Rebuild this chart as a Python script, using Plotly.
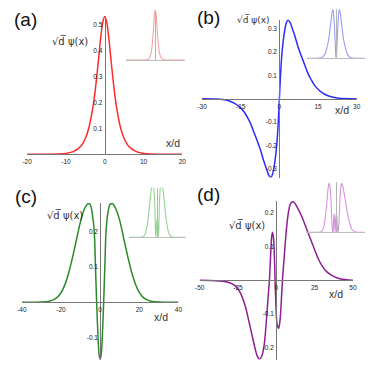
import plotly.graph_objects as go

# ---------------- data ----------------
# (a) ground state
xa = [-20, -15, -12, -10, -8, -6, -5, -4, -3, -2.5, -2, -1.5, -1, -0.5, 0,
      0.5, 1, 1.5, 2, 2.5, 3, 4, 5, 6, 8, 10, 12, 15, 20]
ya = [0, 0.0003, 0.001, 0.0035, 0.011, 0.034, 0.061, 0.107, 0.185, 0.240, 0.307, 0.380, 0.454, 0.509, 0.530,
      0.509, 0.454, 0.380, 0.307, 0.240, 0.185, 0.107, 0.061, 0.034, 0.011, 0.0035, 0.001, 0.0003, 0]

# (b) first excited state
xb = [-30, -23, -20, -17.4, -15.5, -13.6, -12.3, -11.1, -10, -8.6, -7.3, -6.1, -5, -4.2, -3.3, -2.6, -1.9, -1, -0.4,
      0, 0.4, 1, 1.9, 2.6, 3.3, 4.2, 5, 6.1, 7.3, 8.6, 10, 11.1, 12.3, 13.6, 15.5, 17.4, 20, 23, 30]
yb = [0, -0.002, -0.008, -0.02, -0.035, -0.058, -0.082, -0.108, -0.14, -0.18, -0.22, -0.265, -0.30, -0.325, -0.336,
      -0.32, -0.28, -0.194, -0.094,
      0, 0.094, 0.194, 0.28, 0.32, 0.336, 0.325, 0.30, 0.265, 0.22, 0.18, 0.14, 0.108, 0.082, 0.058, 0.035, 0.02,
      0.008, 0.002, 0]

# (c) second excited state
xc = [-40, -30, -26, -24, -22, -20, -18, -16, -14, -12, -10, -8, -6, -5, -4, -3, -2.5, -1.8, -1, -0.5, 0,
      0.5, 1, 1.8, 2.5, 3, 4, 5, 6.2, 8, 10, 12, 14, 16, 18, 20, 22, 24, 26, 30, 40]
yc = [0, 0.0005, 0.003, 0.007, 0.014, 0.027, 0.05, 0.085, 0.13, 0.18, 0.23, 0.265, 0.28, 0.276, 0.25, 0.2, 0.12,
      0.0, -0.11, -0.15, -0.161, -0.15, -0.11, 0.0, 0.12, 0.2, 0.255, 0.277, 0.28, 0.265, 0.232, 0.182, 0.132,
      0.087, 0.052, 0.028, 0.014, 0.007, 0.003, 0.0005, 0]

# (d) third excited state
xd = [-50, -40, -35, -30, -27, -25, -23, -21, -19.5, -18, -16, -14, -12.5, -11, -9.5, -8, -7, -6, -5, -4.5, -4,
      -3.5, -3, -2.5, -1.8, -1.2, -0.8, -0.2, 0.5, 1.6, 2.4, 3.1, 4, 5, 6, 7, 8, 9, 10.5, 12, 14, 16.7, 20, 23,
      27, 30, 33, 38, 42, 50]
yd = [0, -0.001, -0.003, -0.008, -0.016, -0.026, -0.042, -0.066, -0.09, -0.12, -0.16, -0.2, -0.225, -0.235,
      -0.226, -0.195, -0.15, -0.09, -0.03, 0.0, 0.045, 0.095, 0.13, 0.143, 0.125, 0.065, 0.0, -0.08, -0.13,
      -0.143, -0.12, -0.075, 0.0, 0.06, 0.12, 0.17, 0.205, 0.225, 0.234, 0.23, 0.214, 0.189, 0.15, 0.115, 0.068,
      0.042, 0.025, 0.01, 0.004, 0]

# tick values / labels
xt_a = [-20, -10, 0, 10, 20]
xt_a_txt = ["-20", "-10", "0", "10", "20"]
yt_a = [0.1, 0.2, 0.3, 0.4, 0.5]
yt_a_txt = ["0.1", "0.2", "0.3", "0.4", "0.5"]
xt_b = [-30, -15, 0, 15, 30]
xt_b_txt = ["-30", "-15", "0", "15", "30"]
yt_b = [-0.3, -0.2, -0.1, 0.1, 0.2, 0.3]
yt_b_txt = ["-0.3", "-0.2", "-0.1", "0.1", "0.2", "0.3"]
xt_c = [-40, -20, 0, 20, 40]
xt_c_txt = ["-40", "-20", "0", "20", "40"]
yt_c = [-0.1, 0.1, 0.2]
yt_c_txt = ["-0.1", "0.1", "0.2"]
xt_d = [-50, -25, 0, 25, 50]
xt_d_txt = ["-50", "-25", "0", "25", "50"]
yt_d = [-0.2, -0.1, 0.1, 0.2]
yt_d_txt = ["-0.2", "-0.1", "0.1", "0.2"]

panel_labels = ["(a)", "(b)", "(c)", "(d)"]
ylabel = "√d\u0305 ψ(x)"
xlabel = "x/d"

# ---------------- layout helpers ----------------
W = H = 374


def fx(px):
    return px / W


def fy(py):
    return 1 - py / H


main_colors = ["#ff2a2a", "#2b2bff", "#2a8a2a", "#8e1f92"]
inset_colors = ["#f6a3a3", "#9a9af2", "#95d395", "#d595dc"]

mains = [
    dict(xpx=(22.7, 181.7), ypx=(154.3, 16.0), xr=[-20, 20], yr=[0, 0.532], base=154.3, zero=102.2,
         xt=xt_a, xtt=xt_a_txt, yt=yt_a, ytt=yt_a_txt),
    dict(xpx=(202.0, 360.3), ypx=(177.6, 19.8), xr=[-30, 30], yr=[-0.337, 0.337], base=98.7, zero=281.15,
         xt=xt_b, xtt=xt_b_txt, yt=yt_b, ytt=yt_b_txt),
    dict(xpx=(17.3, 177.7), ypx=(359.8, 203.1), xr=[-40, 40], yr=[-0.163, 0.281], base=302.3, zero=97.7,
         xt=xt_c, xtt=xt_c_txt, yt=yt_c, ytt=yt_c_txt),
    dict(xpx=(199.5, 356.5), ypx=(359.6, 201.0), xr=[-50, 50], yr=[-0.236, 0.236], base=280.3, zero=278.0,
         xt=xt_d, xtt=xt_d_txt, yt=yt_d, ytt=yt_d_txt),
]
insets = [
    dict(xpx=(124.0, 184.0), ypx=(60.0, 10.0), xr=[-20, 20], yr=[0, 0.281]),
    dict(xpx=(309.3, 369.3), ypx=(58.3, 9.3), xr=[-30, 30], yr=[0, 0.113]),
    dict(xpx=(126.7, 185.0), ypx=(237.3, 187.5), xr=[-40, 40], yr=[0, 0.072]),
    dict(xpx=(308.7, 368.7), ypx=(232.3, 182.3), xr=[-50, 50], yr=[0, 0.056]),
]
label_pos = [(21.5, 19.5), (208.7, 18.0), (21.7, 196.7), (208.7, 194.0)]
ylabel_pos = [(66.7, 41.0), (254.5, 20.0), (61.2, 215.0), (248.2, 225.0)]
ylabel_size = [10, 9, 10, 10]
xlabel_pos = [(171.7, 143.3), (345.3, 110.0), (159.7, 317.0), (339.5, 293.8)]

series = [(xa, ya), (xb, yb), (xc, yc), (xd, yd)]

fig = go.Figure()
layout = dict(width=W, height=H, margin=dict(l=0, r=0, t=0, b=0),
              paper_bgcolor="white", plot_bgcolor="rgba(0,0,0,0)", showlegend=False,
              font=dict(family="Liberation Sans, Arial, sans-serif", color="#333"))
annotations = []

tickfont = dict(size=6.5, color="#222", family="Liberation Sans, Arial, sans-serif")

for i in range(4):
    n = i + 1
    m = mains[i]
    xs, ys = series[i]
    xk = "x" if n == 1 else f"x{n}"
    yk = "y" if n == 1 else f"y{n}"
    fig.add_trace(go.Scatter(x=xs, y=ys, mode="lines", xaxis=xk, yaxis=yk,
                             line=dict(color=main_colors[i], width=1.5, shape="spline", smoothing=0.8),
                             hoverinfo="skip"))
    xd_ = [fx(m["xpx"][0]), fx(m["xpx"][1])]
    yd_ = [fy(m["ypx"][0]), fy(m["ypx"][1])]
    xname = "xaxis" if n == 1 else f"xaxis{n}"
    yname = "yaxis" if n == 1 else f"yaxis{n}"
    layout[xname] = dict(domain=xd_, range=m["xr"], anchor="free", position=fy(m["base"]),
                         showline=True, linecolor="#777", linewidth=1.2, showgrid=False, zeroline=False,
                         ticks="", tickvals=m["xt"], ticktext=m["xtt"], tickfont=tickfont,
                         ticklabelstandoff=1, fixedrange=True)
    layout[yname] = dict(domain=yd_, range=m["yr"], anchor="free", position=fx(m["zero"]),
                         showline=True, linecolor="#777", linewidth=1.2, showgrid=False, zeroline=False,
                         ticks="", tickvals=m["yt"], ticktext=m["ytt"], tickfont=tickfont,
                         ticklabelstandoff=1, fixedrange=True)

    # inset: density |psi|^2 of the same read values
    k = n + 4
    ins = insets[i]
    dens = [v * v for v in ys]
    fig.add_trace(go.Scatter(x=xs, y=dens, mode="lines", xaxis=f"x{k}", yaxis=f"y{k}",
                             line=dict(color=inset_colors[i], width=1.1, shape="spline", smoothing=0.8),
                             hoverinfo="skip"))
    ixd = [fx(ins["xpx"][0]), fx(ins["xpx"][1])]
    iyd = [fy(ins["ypx"][0]), fy(ins["ypx"][1])]
    layout[f"xaxis{k}"] = dict(domain=ixd, range=ins["xr"], anchor=f"y{k}", showline=True,
                               linecolor="#bdbdbd", linewidth=1, showgrid=False, zeroline=False,
                               showticklabels=False, ticks="", fixedrange=True)
    layout[f"yaxis{k}"] = dict(domain=iyd, range=ins["yr"], anchor="free",
                               position=(ixd[0] + ixd[1]) / 2, showline=True,
                               linecolor="#b5b5b5", linewidth=1.3, showgrid=False, zeroline=False,
                               showticklabels=False, ticks="", fixedrange=True)

    lx, ly = label_pos[i]
    annotations.append(dict(text=panel_labels[i], x=fx(lx), y=fy(ly), xref="paper", yref="paper",
                            showarrow=False, xanchor="center", yanchor="middle",
                            font=dict(size=19, color="#111", family="Liberation Sans, Arial, sans-serif")))
    px_, py_ = ylabel_pos[i]
    annotations.append(dict(text=ylabel, x=fx(px_), y=fy(py_), xref="paper", yref="paper",
                            showarrow=False, xanchor="center", yanchor="middle",
                            font=dict(size=ylabel_size[i], color="#333",
                                      family="DejaVu Sans, Liberation Sans, sans-serif")))
    qx, qy = xlabel_pos[i]
    annotations.append(dict(text=xlabel, x=fx(qx), y=fy(qy), xref="paper", yref="paper",
                            showarrow=False, xanchor="center", yanchor="middle",
                            font=dict(size=10.5, color="#333",
                                      family="Liberation Sans, Arial, sans-serif")))

layout["annotations"] = annotations
fig.update_layout(**layout)
fig.write_html("out.html", config={"displayModeBar": False},
               post_script="document.body.style.margin='0';document.body.style.overflow='hidden';")
